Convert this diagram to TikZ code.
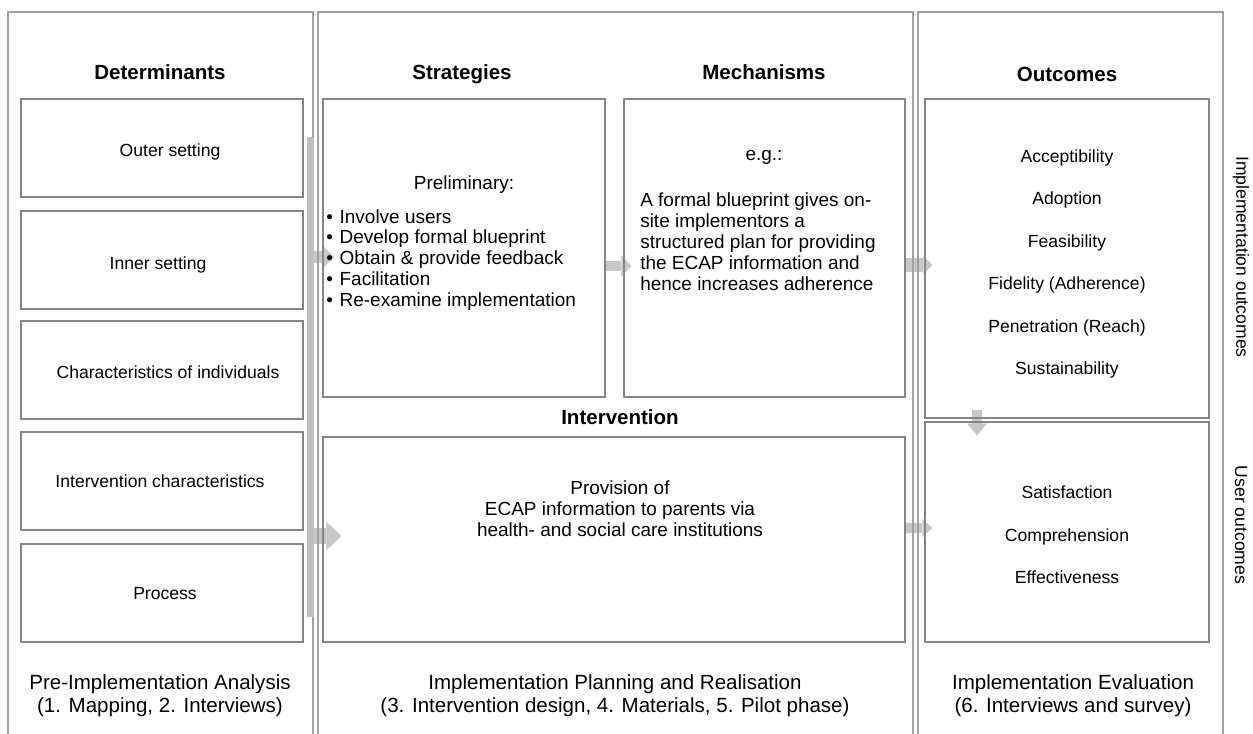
\documentclass[tikz,border=0pt]{standalone}
\usepackage{fontspec}
\setmainfont{Liberation Sans}
\usetikzlibrary{shapes,arrows.meta,positioning,fit,backgrounds}

\newcommand{\bodytext}{\fontsize{12.5}{14.9}\selectfont}
\newcommand{\bigtext}{\fontsize{13.5}{14.9}\selectfont}
\newcommand{\headtext}{\fontsize{14.6}{17}\selectfont\bfseries}
\newcommand{\foottext}{\fontsize{14.6}{16.4}\selectfont}
\newcommand{\listtext}{\fontsize{12.5}{30.2}\selectfont}
\newcommand{\bull}{\makebox[9.5pt][l]{\textbullet}}

\begin{document}
\begin{tikzpicture}[
        x=0.025cm, y=-0.025cm,
        panel/.style={draw=black!37, line width=0.8pt},
        box/.style={rectangle, draw=black!48, line width=0.8pt, inner sep=0pt},
        bar/.style={rectangle, fill=black!25, draw=none, inner sep=0pt},
        head/.style={inner sep=0pt, font=\headtext, text height=1.45ex, text depth=0.3ex},
        txt/.style={inner sep=0pt, align=center, font=\bodytext},
        foot/.style={inner sep=0pt, align=center, font=\foottext},
        garrow/.style n args={3}{draw=black!22, line width=#1, -{Triangle[width=#2, length=#3, line width=0pt]}}
    ]
        \useasboundingbox (0,0) rectangle (1253,734);

        % the three phases
        \draw[panel] (8,740) |- (313,12) -- (313,740);
        \draw[panel] (318,740) |- (913,12) -- (913,740);
        \draw[panel] (918,740) |- (1223,12) -- (1223,740);

        \node[head] (det) at (160,75) {Determinants};
        \node[head] (strh) at (462,75) {Strategies};
        \node[head] (mechh) at (764,75) {Mechanisms};
        \node[head] (outh) at (1067,77) {Outcomes};
        \node[head] (intvh) at (620,420) {Intervention};

        % determinants
        \node[box, fit={(21,99) (303,197)}] (outer) {};
        \node[box, fit={(21,211) (303,309)}] (inner) {};
        \node[box, fit={(21,321) (303,419)}] (indiv) {};
        \node[box, fit={(21,432) (303,530)}] (intch) {};
        \node[box, fit={(21,544) (303,642)}] (proc) {};
        \node[txt] (outert) at (170,152) {Outer setting};
        \node[txt] (innert) at (158,265) {Inner setting};
        \node[txt] (indivt) at (168,372) {Characteristics of individuals};
        \node[txt] (intcht) at (160,481) {Intervention characteristics};
        \node[txt] (proct) at (165,594) {Process};
        \node[bar, fit={(307,137) (314,617)}] (bar) {};

        % strategies and mechanisms
        \node[box, fit={(323,99) (605,397)}] (strat) {};
        \node[txt, font=\bigtext] (prelim) at (464,185) {Preliminary:};
        \node[txt, font=\bigtext, anchor=west, align=left] (steps) at (326,260)
            {\bull Involve users\\\bull Develop formal blueprint\\\bull Obtain \& provide feedback\\\bull Facilitation\\\bull Re-examine implementation};
        \node[box, fit={(624,99) (905,397)}] (mech) {};
        \node[txt, font=\bigtext] (eg) at (764,157) {e.g.:};
        \node[txt, font=\bigtext, anchor=west, align=left] (blue) at (640,242)
            {A formal blueprint gives on-\\site implementors a\\structured plan for providing\\the ECAP information and\\hence increases adherence};

        % intervention
        \node[box, fit={(323,437) (905,642)}] (interv) {};
        \node[txt, font=\bigtext] (prov) at (620,509) {Provision of\\ECAP information to parents via\\health- and social care institutions};

        % outcomes
        \node[box, fit={(925,99) (1209,418)}] (impl) {};
        \node[txt, font=\listtext] (implt) at (1067,264)
            {Acceptibility\\Adoption\\Feasibility\\Fidelity (Adherence)\\Penetration (Reach)\\Sustainability};
        \node[box, fit={(925,422) (1209,642)}] (user) {};
        \node[txt, font=\listtext] (usert) at (1067,535) {Satisfaction\\Comprehension\\Effectiveness};
        \node[txt, rotate=-90] (implo) at (1241,257) {Implementation outcomes};
        \node[txt, rotate=-90] (usero) at (1241,525) {User outcomes};

        % phases
        \node[foot] (pre) at (160,696) {Pre-Implementation Analysis\\(1. Mapping, 2. Interviews)};
        \node[foot] (plan) at (615,696) {Implementation Planning and Realisation\\(3. Intervention design, 4. Materials, 5. Pilot phase)};
        \node[foot] (eval) at (1073,696) {Implementation Evaluation\\(6. Interviews and survey)};

        \begin{pgfonlayer}{background}
            \draw[garrow={8.5pt}{15pt}{7.8pt}, shorten >=-8.5pt] (bar.east |- 0,257) -- (strat.west |- 0,257);
            \draw[garrow={10.7pt}{20.6pt}{10.7pt}, shorten >=-13.5pt] (bar.east |- 0,536) -- (interv.west |- 0,536);
            \draw[garrow={7.8pt}{15pt}{7.1pt}, shorten >=-5.7pt] (strat.east |- 0,266) -- (mech.west |- 0,266);
            \draw[garrow={9.5pt}{13pt}{6.4pt}, shorten >=-5.7pt] (mech.east |- 0,265) -- (impl.west |- 0,265);
            \draw[garrow={7.1pt}{13pt}{7.1pt}, shorten >=-5.7pt] (interv.east |- 0,528) -- (user.west |- 0,528);
            \draw[garrow={7.1pt}{14.2pt}{8.5pt}, shorten <=-6.4pt, shorten >=-10pt] (impl.south -| 977,0) -- (user.north -| 977,0);
        \end{pgfonlayer}
    \end{tikzpicture}
\end{document}
